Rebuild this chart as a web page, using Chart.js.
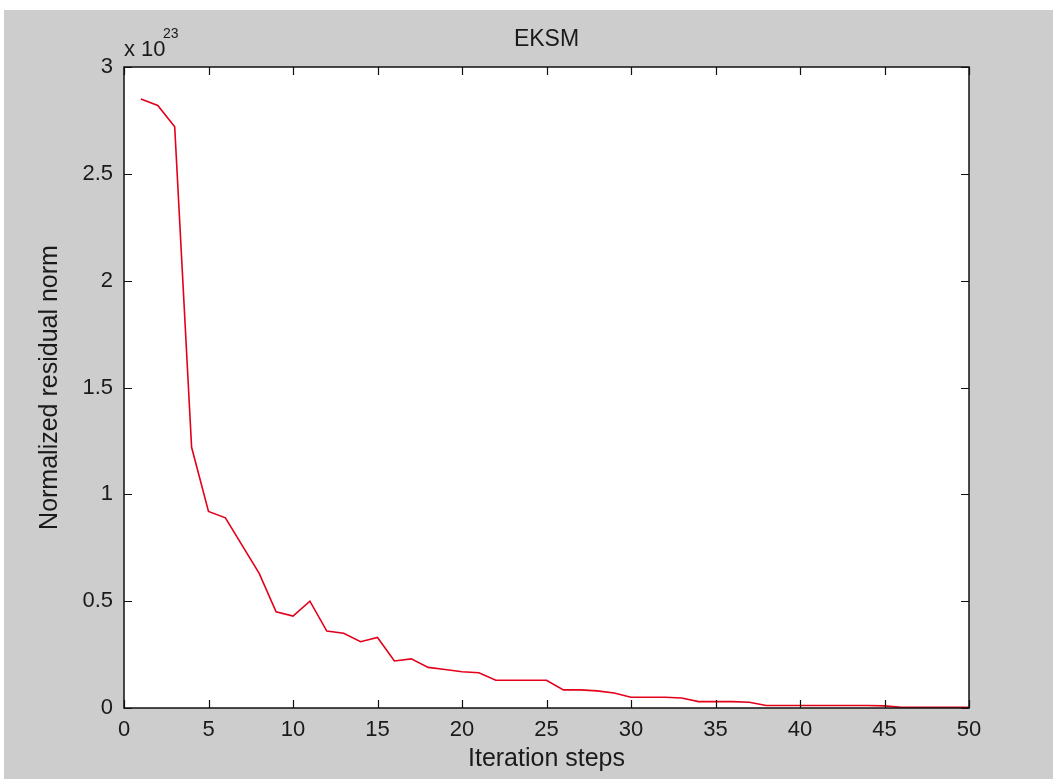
<!DOCTYPE html>
<html>
<head>
<meta charset="utf-8">
<title>EKSM</title>
<script src="https://cdn.jsdelivr.net/npm/chart.js@4.4.1/dist/chart.umd.min.js"></script>
<style>
    html, body { margin: 0; padding: 0; background: #ffffff; }
    #wrap { position: relative; width: 1053px; height: 779px; }
</style>
</head>
<body>
<div id="wrap"><canvas id="eksm"></canvas></div>
<script>
    // Iteration steps (x) and normalized residual norm in units of 1e23 (y)
    const steps = [1, 2, 3, 4, 5, 6, 7, 8, 9, 10,
                   11, 12, 13, 14, 15, 16, 17, 18, 19, 20,
                   21, 22, 23, 24, 25, 26, 27, 28, 29, 30,
                   31, 32, 33, 34, 35, 36, 37, 38, 39, 40,
                   41, 42, 43, 44, 45, 46, 47, 48, 49, 50];
    const residual = [2.85, 2.82, 2.72, 1.22, 0.92, 0.89, 0.76, 0.63, 0.45, 0.43,
                      0.50, 0.36, 0.35, 0.31, 0.33, 0.22, 0.23, 0.19, 0.18, 0.17,
                      0.165, 0.13, 0.13, 0.13, 0.13, 0.085, 0.085, 0.08, 0.07, 0.05,
                      0.05, 0.05, 0.047, 0.03, 0.03, 0.03, 0.027, 0.012, 0.012, 0.012,
                      0.012, 0.012, 0.012, 0.012, 0.01, 0.003, 0.003, 0.003, 0.003, 0.003];
    const xTicks = [0, 5, 10, 15, 20, 25, 30, 35, 40, 45, 50];
    const yTicks = [0, 0.5, 1, 1.5, 2, 2.5, 3];

    const FONT = "'Liberation Sans', Arial, sans-serif";

    // MATLAB-style figure: grey frame, white axes box, inward ticks, title and exponent
    const matlabLook = {
        id: 'matlabLook',
        beforeDraw(chart) {
            const ctx = chart.ctx, a = chart.chartArea;
            ctx.save();
            ctx.fillStyle = '#ffffff';
            ctx.fillRect(0, 0, chart.width, chart.height);
            ctx.fillStyle = '#cdcdcd';
            ctx.fillRect(4, 10, chart.width - 4, chart.height - 10);
            ctx.fillStyle = '#ffffff';
            ctx.fillRect(a.left, a.top, a.right - a.left, a.bottom - a.top);
            ctx.restore();
        },
        afterDraw(chart) {
            const ctx = chart.ctx, a = chart.chartArea;
            const xs = chart.scales.x, ys = chart.scales.y;
            ctx.save();
            ctx.strokeStyle = '#111111';
            ctx.lineWidth = 1.5;
            ctx.strokeRect(a.left, a.top, a.right - a.left, a.bottom - a.top);
            ctx.lineWidth = 1.2;
            ctx.beginPath();
            xTicks.forEach(function (v) {
                const px = Math.round(xs.getPixelForValue(v)) + 0.5;
                ctx.moveTo(px, a.bottom); ctx.lineTo(px, a.bottom - 8);
                ctx.moveTo(px, a.top); ctx.lineTo(px, a.top + 8);
            });
            yTicks.forEach(function (v) {
                const py = Math.round(ys.getPixelForValue(v)) + 0.5;
                ctx.moveTo(a.left, py); ctx.lineTo(a.left + 8, py);
                ctx.moveTo(a.right, py); ctx.lineTo(a.right - 8, py);
            });
            ctx.stroke();

            ctx.fillStyle = '#1a1a1a';
            ctx.textAlign = 'center';
            ctx.textBaseline = 'alphabetic';
            ctx.font = '23px ' + FONT;
            ctx.fillText('EKSM', (a.left + a.right) / 2, 46);

            ctx.textAlign = 'left';
            ctx.font = '22px ' + FONT;
            ctx.fillText('x 10', a.left, 56);
            ctx.font = '14px ' + FONT;
            ctx.fillText('23', a.left + 39, 38);
            ctx.restore();
        }
    };

    const ctx = document.getElementById('eksm').getContext('2d');
    const chart = new Chart(ctx, {
        type: 'line',
        data: {
            datasets: [{
                label: 'EKSM',
                data: steps.map(function (s, i) { return {x: s, y: residual[i]}; }),
                borderColor: '#e3001b',
                borderWidth: 1.6,
                pointRadius: 0,
                tension: 0,
                fill: false
            }]
        },
        options: {
            responsive: true,
            maintainAspectRatio: false,
            animation: false,
            layout: {
                padding: {left: 0, top: 67, right: 84, bottom: 0}
            },
            plugins: {
                legend: {display: false},
                tooltip: {enabled: false}
            },
            scales: {
                x: {
                    type: 'linear',
                    min: 0,
                    max: 50,
                    afterFit: function (scale) { scale.height = 71; },
                    afterBuildTicks: function (scale) {
                        scale.ticks = xTicks.map(function (v) { return {value: v}; });
                    },
                    grid: {display: false, drawTicks: false},
                    border: {display: false},
                    ticks: {
                        padding: 9,
                        maxRotation: 0,
                        autoSkip: false,
                        color: '#1a1a1a',
                        font: {family: FONT, size: 22}
                    },
                    title: {
                        display: true,
                        text: 'Iteration steps',
                        color: '#1a1a1a',
                        font: {family: FONT, size: 25},
                        padding: {top: 0, bottom: 5}
                    }
                },
                y: {
                    type: 'linear',
                    min: 0,
                    max: 3,
                    afterFit: function (scale) { scale.width = 124; },
                    afterBuildTicks: function (scale) {
                        scale.ticks = yTicks.map(function (v) { return {value: v}; });
                    },
                    grid: {display: false, drawTicks: false},
                    border: {display: false},
                    ticks: {
                        padding: 11,
                        autoSkip: false,
                        color: '#1a1a1a',
                        font: {family: FONT, size: 22},
                        callback: function (v) { return String(v); }
                    },
                    title: {
                        display: true,
                        text: 'Normalized residual norm',
                        color: '#1a1a1a',
                        font: {family: FONT, size: 25},
                        padding: {top: 35, bottom: 0}
                    }
                }
            }
        },
        plugins: [matlabLook]
    });
</script>
</body>
</html>
